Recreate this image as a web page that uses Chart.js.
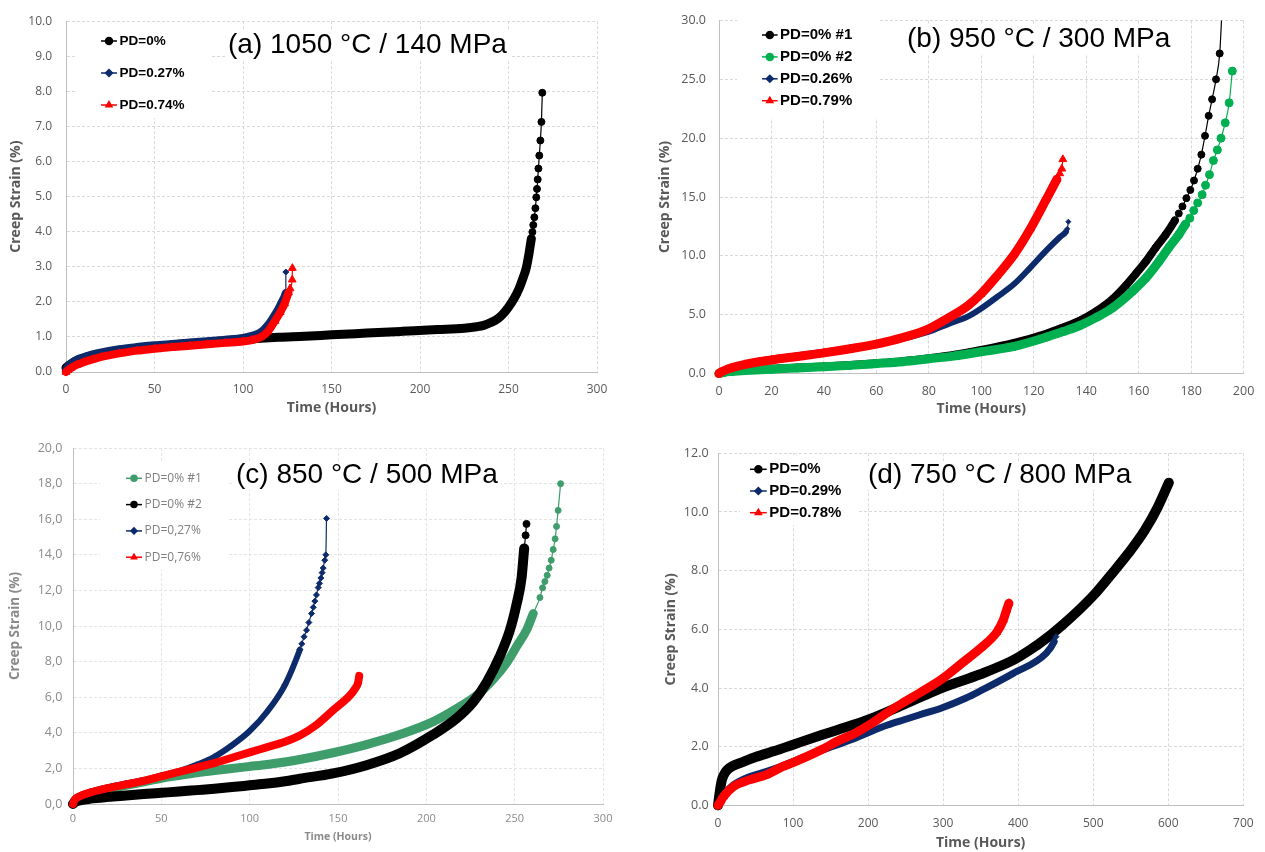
<!DOCTYPE html>
<html>
<head>
<meta charset="utf-8">
<script src="https://cdn.jsdelivr.net/npm/chart.js@4.4.1/dist/chart.umd.min.js"></script>
<style>
  html, body { margin: 0; padding: 0; background: #fff; }
  body { width: 1265px; height: 852px; position: relative; overflow: hidden; }
  canvas { position: absolute; }
</style>
</head>
<body>
<canvas id="chartA" width="630" height="425" style="left:0;top:0"></canvas>
<canvas id="chartB" width="625" height="425" style="left:640px;top:0"></canvas>
<canvas id="chartC" width="630" height="422" style="left:0;top:430px;filter:blur(0.5px)"></canvas>
<canvas id="chartD" width="625" height="422" style="left:640px;top:430px"></canvas>
<script>
// ---- (a) 1050 °C / 140 MPa ----
const aTitle = '(a) 1050 °C / 140 MPa';
const aLabels = ['PD=0%', 'PD=0.27%', 'PD=0.74%'];
const aTicksX = [0, 50, 100, 150, 200, 250, 300];
const aTicksY = [0, 1, 2, 3, 4, 5, 6, 7, 8, 9, 10];
const aTime0 = [0, 2, 5, 10, 20, 30, 40, 50, 60, 75, 90, 100, 110, 120, 135, 150, 170, 190, 210, 225, 232, 236, 240, 244, 247, 250, 253, 256, 258, 260, 261.5, 262.9, 263.5, 264.0, 264.6, 265.2, 265.7, 266.1, 266.5, 266.9, 267.4, 268.0, 268.6, 269.1];
const aStrain0 = [0.12, 0.2, 0.3, 0.4, 0.52, 0.6, 0.67, 0.72, 0.77, 0.83, 0.89, 0.92, 0.96, 0.99, 1.02, 1.06, 1.11, 1.16, 1.21, 1.25, 1.29, 1.33, 1.41, 1.52, 1.66, 1.85, 2.08, 2.38, 2.65, 2.96, 3.35, 3.80, 3.99, 4.19, 4.41, 4.67, 4.98, 5.22, 5.49, 5.80, 6.17, 6.60, 7.13, 7.96];
const aTime1 = [0, 1, 3, 6, 10, 15, 20, 30, 40, 50, 60, 70, 80, 90, 100, 105, 110, 114, 117, 120, 122, 123.5, 124.2, 124.2];
const aStrain1 = [0.05, 0.15, 0.25, 0.35, 0.42, 0.5, 0.56, 0.65, 0.71, 0.76, 0.8, 0.84, 0.88, 0.92, 0.97, 1.03, 1.13, 1.33, 1.55, 1.8, 2.0, 2.15, 2.25, 2.85];
const aTime2 = [0, 1, 3, 6, 10, 15, 20, 30, 40, 50, 60, 70, 80, 90, 100, 105, 110, 114, 118, 121, 123.5, 125.7, 126.6, 127.8, 127.9];
const aStrain2 = [0, 0.05, 0.12, 0.2, 0.28, 0.36, 0.43, 0.53, 0.61, 0.66, 0.71, 0.75, 0.79, 0.83, 0.87, 0.91, 0.99, 1.15, 1.45, 1.7, 1.95, 2.26, 2.38, 2.63, 2.96];

// ---- (b) 950 °C / 300 MPa ----
const bTitle = '(b) 950 °C / 300 MPa';
const bLabels = ['PD=0% #1', 'PD=0% #2', 'PD=0.26%', 'PD=0.79%'];
const bTicksX = [0, 20, 40, 60, 80, 100, 120, 140, 160, 180, 200];
const bTicksY = [0, 5, 10, 15, 20, 25, 30];
const bTime0 = [0, 2, 5, 10, 20, 30, 40, 50, 60, 70, 80, 90, 100, 112.5, 125, 131, 137.6, 143.9, 150.2, 155.2, 159, 162.8, 166.5, 170.3, 173.8, 175.3, 176.7, 178.2, 179.7, 181.1, 182.5, 183.9, 185.3, 186.7, 188.0, 189.5, 190.9, 191.8];
const bStrain0 = [0, 0.1, 0.18, 0.27, 0.4, 0.5, 0.6, 0.72, 0.87, 1.05, 1.3, 1.6, 2.0, 2.6, 3.4, 3.9, 4.5, 5.3, 6.35, 7.5, 8.5, 9.54, 10.7, 11.8, 13.0, 13.6, 14.2, 14.9, 15.6, 16.4, 17.4, 18.6, 20.2, 21.9, 23.3, 25.0, 27.2, 31.0];
const bTime1 = [0, 2, 5, 10, 20, 30, 40, 50, 60, 70, 80, 90, 100, 112.5, 125, 131, 137.6, 143.9, 150.2, 157.7, 162.8, 167.8, 171.5, 175.3, 177.9, 179.5, 181, 182.5, 184.2, 185.5, 187, 188.5, 190, 191.4, 193, 194.5, 195.7];
const bStrain1 = [0, 0.1, 0.17, 0.25, 0.37, 0.47, 0.57, 0.69, 0.84, 1.0, 1.25, 1.5, 1.85, 2.3, 3.1, 3.55, 4.08, 4.77, 5.6, 7.0, 8.13, 9.54, 10.7, 11.8, 12.7, 13.2, 13.85, 14.5, 15.2, 16.0, 16.9, 18.1, 19.0, 20.0, 21.3, 23.0, 25.7];
const bTime2 = [0, 1, 3, 5, 10, 20, 30, 40, 50, 60, 70, 80, 87.3, 95, 99.8, 106, 112.5, 118.7, 125, 130, 132.3, 132.8, 133.2];
const bStrain2 = [0, 0.2, 0.4, 0.55, 0.85, 1.25, 1.55, 1.85, 2.15, 2.5, 2.95, 3.55, 4.2, 4.85, 5.5, 6.5, 7.6, 9.0, 10.5, 11.6, 12.06, 12.3, 12.9];
const bTime3 = [0, 1, 3, 5, 10, 20, 30, 40, 50, 60, 70, 80, 87.3, 94.8, 99.8, 106, 112.5, 118.7, 125, 128.8, 129.9, 130.7, 131.1];
const bStrain3 = [0, 0.15, 0.35, 0.5, 0.78, 1.15, 1.45, 1.75, 2.1, 2.5, 3.05, 3.8, 4.7, 5.75, 6.74, 8.3, 10.1, 12.3, 14.9, 16.5, 17.0, 17.4, 18.2];

// ---- (c) 850 °C / 500 MPa ----
const cTitle = '(c) 850 °C / 500 MPa';
const cLabels = ['PD=0% #1', 'PD=0% #2', 'PD=0,27%', 'PD=0,76%'];
const cTicksX = [0, 50, 100, 150, 200, 250, 300];
const cTicksY = [0, 2, 4, 6, 8, 10, 12, 14, 16, 18, 20];
const cTime0 = [0, 1, 3, 10, 20, 30, 40, 50, 60, 70, 80, 90, 100, 110, 120, 128.4, 147.2, 166.1, 185, 203.9, 217.1, 228.4, 237.8, 245.4, 251.1, 256.7, 260.5, 264.3, 265.8, 267.1, 268.4, 269.5, 270.7, 271.8, 272.9, 273.7, 274.6, 276];
const cStrain0 = [0, 0.2, 0.35, 0.6, 0.85, 1.05, 1.25, 1.45, 1.6, 1.75, 1.88, 2.0, 2.11, 2.22, 2.36, 2.5, 2.88, 3.34, 3.9, 4.63, 5.36, 6.1, 7.0, 7.93, 8.85, 9.77, 10.7, 11.6, 12.15, 12.5, 12.85, 13.26, 13.7, 14.3, 14.9, 15.6, 16.5, 18.0];
const cTime1 = [0, 1, 3, 10, 20, 30, 40, 50, 60, 70, 80, 90, 100, 110, 120, 128.4, 147.2, 166.1, 185, 203.9, 217.1, 226.5, 234.1, 241.6, 247.3, 251.1, 253.9, 255.4, 256.2, 256.7];
const cStrain1 = [0, 0.1, 0.18, 0.3, 0.4, 0.48, 0.56, 0.63, 0.7, 0.78, 0.86, 0.95, 1.05, 1.15, 1.28, 1.42, 1.72, 2.18, 2.85, 3.9, 4.81, 5.73, 6.83, 8.3, 9.77, 11.24, 12.7, 14.36, 15.1, 15.74];
const cTime2 = [0, 1, 3, 10, 20, 30, 40, 50, 60, 70, 80, 90, 100, 110, 120, 128.4, 129.5, 130.8, 132.2, 133.5, 135, 136, 136.9, 137.8, 138.8, 139.5, 140.3, 141, 141.6, 142.5, 143.1, 143.5];
const cStrain2 = [0, 0.2, 0.4, 0.7, 0.95, 1.15, 1.35, 1.6, 1.85, 2.2, 2.65, 3.3, 4.1, 5.2, 6.7, 8.67, 9.0, 9.4, 9.77, 10.2, 10.7, 11.05, 11.4, 11.75, 12.16, 12.4, 12.7, 13.0, 13.26, 13.7, 14.0, 16.05];
const cTime3 = [0, 1, 3, 10, 20, 30, 40, 50, 60, 70, 80, 90, 100, 110, 120, 128.4, 137.8, 147.2, 156.7, 159.5, 161.4, 162];
const cStrain3 = [0, 0.25, 0.4, 0.65, 0.9, 1.1, 1.3, 1.55, 1.8, 2.05, 2.3, 2.6, 2.9, 3.2, 3.5, 3.85, 4.45, 5.27, 6.1, 6.46, 6.83, 7.2];

// ---- (d) 750 °C / 800 MPa ----
const dTitle = '(d) 750 °C / 800 MPa';
const dLabels = ['PD=0%', 'PD=0.29%', 'PD=0.78%'];
const dTicksX = [0, 100, 200, 300, 400, 500, 600, 700];
const dTicksY = [0, 2, 4, 6, 8, 10, 12];
const dTime0 = [0, 2, 5, 8, 12, 20, 30, 50, 75, 100, 138, 160, 200, 248, 298, 349.5, 393.4, 415.3, 437.2, 459, 481, 503, 525, 546.8, 568.8, 586.3, 600.8];
const dStrain0 = [0, 0.4, 0.85, 1.05, 1.2, 1.35, 1.45, 1.65, 1.85, 2.07, 2.4, 2.58, 2.92, 3.44, 4.0, 4.47, 4.95, 5.29, 5.69, 6.15, 6.66, 7.23, 7.9, 8.59, 9.38, 10.18, 11.0];
const dTime1 = [0, 3, 7.4, 20.5, 42, 64, 86, 100, 138, 182, 204, 226, 248, 269, 298, 330.6, 349.5, 393.4, 437.2, 447.9, 450.4];
const dStrain1 = [0, 0.15, 0.35, 0.7, 0.98, 1.15, 1.35, 1.5, 1.88, 2.28, 2.52, 2.74, 2.92, 3.09, 3.32, 3.66, 3.9, 4.5, 5.18, 5.58, 5.75];
const dTime2 = [0, 3, 7.4, 20.5, 42, 64, 86, 100, 138, 160, 182, 204, 226, 248, 269, 298, 327.6, 349.5, 371.4, 380.2, 384.5, 387.6];
const dStrain2 = [0, 0.12, 0.3, 0.64, 0.87, 1.04, 1.32, 1.46, 1.9, 2.2, 2.45, 2.78, 3.17, 3.52, 3.84, 4.3, 4.9, 5.35, 5.9, 6.32, 6.66, 6.89];

const BLACK = '#000000', NAVY = '#0d2b6b', RED = '#ff0000', GREEN = '#00b050', GREEN_C = '#3f9d6c';

// title + in-plot legend, drawn over the grid but under the curves
const decorPlugin = {
  id: 'decor',
  beforeDatasetsDraw(chart, args, o) {
    const ctx = chart.ctx;
    const ox = o.offset[0], oy = o.offset[1];
    ctx.save();
    ctx.setLineDash([]);
    ctx.fillStyle = '#ffffff';
    ctx.fillRect(o.box[0] - ox, o.box[1] - oy, o.box[2], o.box[3]);
    ctx.font = '28px "Liberation Sans", Arial, sans-serif';
    const tw = ctx.measureText(o.title).width;
    ctx.fillRect(o.titleAt[0] - ox - 3, o.titleAt[1] - oy - 22, tw + 6, 29);
    ctx.fillStyle = '#000000';
    ctx.textAlign = 'left';
    ctx.textBaseline = 'alphabetic';
    ctx.fillText(o.title, o.titleAt[0] - ox, o.titleAt[1] - oy);

    chart.data.datasets.forEach((ds, i) => {
      const x = o.legendX - ox;
      const y = o.legendY + i * o.legendStep - oy;
      ctx.strokeStyle = ds.borderColor;
      ctx.fillStyle = ds.borderColor;
      ctx.lineWidth = 1.5;
      ctx.beginPath();
      ctx.moveTo(x, y);
      ctx.lineTo(x + o.legendLen, y);
      ctx.stroke();
      Chart.helpers.drawPoint(ctx, { pointStyle: ds.pointStyle, radius: o.legendR, borderWidth: 1, rotation: 0 }, x + o.legendLen / 2, y);
      ctx.fillStyle = o.legendColor;
      ctx.font = o.legendFont;
      ctx.textBaseline = 'middle';
      ctx.fillText(ds.label, x + o.legendLen + o.legendGap, y);
    });
    ctx.restore();
  }
};

function makePanel(id, p) {
  const [bx, by, bw, bh] = p.box;
  const [al, at, ar, ab] = p.area;
  const gridColor = p.gridColor || '#d9d9d9';
  const tickColor = p.tickColor || '#595959';
  const axisTitle = (text, size, pad) => ({
    display: true, text: text, color: tickColor, padding: pad,
    font: { family: 'Open Sans', size: size, weight: 'bold' }
  });
  return new Chart(document.getElementById(id), {
    type: 'scatter',
    data: {
      datasets: p.series.map(s => ({
        label: s.label,
        data: s.t.map((t, i) => ({ x: t, y: s.s[i] })),
        showLine: true,
        cubicInterpolationMode: 'monotone',
        borderColor: s.color,
        backgroundColor: s.color,
        borderWidth: s.band,
        borderJoinStyle: 'round',
        borderCapStyle: 'round',
        pointStyle: s.shape,
        pointRadius: s.r,
        pointHoverRadius: s.r,
        pointBorderWidth: 1,
        order: s.order,
        clip: { left: 6, top: 0, right: 6, bottom: 6 },
        segment: { borderWidth: c => (c.p0DataIndex >= s.tail ? 1.2 : s.band) }
      }))
    },
    options: {
      responsive: false,
      animation: false,
      events: [],
      layout: { padding: { left: 0, top: at - by, right: bx + bw - ar, bottom: 0 } },
      scales: {
        x: {
          type: 'linear', min: p.ticksX[0], max: p.ticksX[p.ticksX.length - 1],
          afterBuildTicks: sc => { sc.ticks = p.ticksX.map(v => ({ value: v })); },
          afterFit: sc => { sc.height = by + bh - ab; },
          grid: { color: gridColor, lineWidth: 1, drawTicks: false },
          border: { color: '#bfbfbf', width: 1, dash: [3, 2] },
          ticks: { color: tickColor, padding: p.xTickPad, font: { family: 'Open Sans', size: p.xTickSize }, callback: v => String(v) },
          title: axisTitle('Time (Hours)', p.xTitleSize, { top: 0, bottom: p.xTitlePad })
        },
        y: {
          type: 'linear', min: p.ticksY[0], max: p.ticksY[p.ticksY.length - 1],
          afterBuildTicks: sc => { sc.ticks = p.ticksY.map(v => ({ value: v })); },
          afterFit: sc => { sc.width = al - bx; },
          grid: { color: gridColor, lineWidth: 1, drawTicks: false },
          border: { color: '#bfbfbf', width: 1, dash: [3, 2] },
          ticks: { color: tickColor, padding: p.yTickPad, font: { family: 'Open Sans', size: p.yTickSize }, callback: v => (p.comma ? v.toFixed(1).replace('.', ',') : v.toFixed(1)) },
          title: axisTitle('Creep Strain (%)', p.yTitleSize, { top: p.yTitlePad, bottom: 0 })
        }
      },
      plugins: {
        legend: { display: false },
        tooltip: { enabled: false },
        decor: Object.assign({ offset: [bx, by] }, p.decor)
      }
    },
    plugins: [decorPlugin]
  });
}

makePanel('chartA', {
  box: [0, 0, 630, 425], area: [66, 16, 597, 372],
  ticksX: aTicksX, ticksY: aTicksY,
  xTickSize: 12, yTickSize: 12, xTickPad: 10.8, yTickPad: 14,
  xTitleSize: 14, yTitleSize: 14, xTitlePad: 8.6, yTitlePad: 7.6,
  series: [
    { label: aLabels[0], t: aTime0, s: aStrain0, color: BLACK, shape: 'circle', r: 3.5, band: 9, tail: 31, order: 3 },
    { label: aLabels[1], t: aTime1, s: aStrain1, color: NAVY, shape: 'rectRot', r: 3, band: 8, tail: 22, order: 2 },
    { label: aLabels[2], t: aTime2, s: aStrain2, color: RED, shape: 'triangle', r: 4.5, band: 8, tail: 21, order: 1 }
  ],
  decor: {
    title: aTitle, titleAt: [228, 53], box: [75, 22, 135, 96],
    legendX: 101, legendY: 41, legendStep: 32, legendLen: 16, legendGap: 2.5, legendR: 3.5,
    legendFont: 'bold 13.5px "Liberation Sans", Arial, sans-serif', legendColor: '#000000'
  }
});

makePanel('chartB', {
  box: [640, 0, 625, 425], area: [719, 16, 1248.5, 373.5],
  ticksX: bTicksX, ticksY: bTicksY,
  xTickSize: 12.5, yTickSize: 12.5, xTickPad: 10.7, yTickPad: 13,
  xTitleSize: 14, yTitleSize: 14, xTitlePad: 7.3, yTitlePad: 16.6,
  series: [
    { label: bLabels[0], t: bTime0, s: bStrain0, color: BLACK, shape: 'circle', r: 3.5, band: 8, tail: 24, order: 4 },
    { label: bLabels[1], t: bTime1, s: bStrain1, color: GREEN, shape: 'circle', r: 4, band: 9, tail: 24, order: 3 },
    { label: bLabels[2], t: bTime2, s: bStrain2, color: NAVY, shape: 'rectRot', r: 2.5, band: 6, tail: 20, order: 2 },
    { label: bLabels[3], t: bTime3, s: bStrain3, color: RED, shape: 'triangle', r: 4.5, band: 9, tail: 19, order: 1 }
  ],
  decor: {
    title: bTitle, titleAt: [907, 47], box: [737, 20, 141, 98],
    legendX: 762, legendY: 35, legendStep: 21.9, legendLen: 15.6, legendGap: 2.5, legendR: 3.5,
    legendFont: 'bold 15px "Liberation Sans", Arial, sans-serif', legendColor: '#000000'
  }
});

makePanel('chartC', {
  box: [0, 430, 630, 422], area: [73, 441, 603, 804],
  ticksX: cTicksX, ticksY: cTicksY, comma: true,
  gridColor: '#e4e4e4', tickColor: '#8a8a8a',
  xTickSize: 11, yTickSize: 12.5, xTickPad: 8.4, yTickPad: 10.6,
  xTitleSize: 10.5, yTitleSize: 13.5, xTitlePad: 9, yTitlePad: 6.9,
  series: [
    { label: cLabels[0], t: cTime0, s: cStrain0, color: GREEN_C, shape: 'circle', r: 3, band: 9, tail: 26, order: 4 },
    { label: cLabels[1], t: cTime1, s: cStrain1, color: BLACK, shape: 'circle', r: 3.5, band: 10, tail: 27, order: 3 },
    { label: cLabels[2], t: cTime2, s: cStrain2, color: NAVY, shape: 'rectRot', r: 3, band: 6, tail: 15, order: 2 },
    { label: cLabels[3], t: cTime3, s: cStrain3, color: RED, shape: 'triangle', r: 3.5, band: 8, tail: 99, order: 1 }
  ],
  decor: {
    title: cTitle, titleAt: [236, 483], box: [100, 462, 127, 108],
    legendX: 126, legendY: 478.3, legendStep: 26.3, legendLen: 16, legendGap: 2.5, legendR: 3,
    legendFont: '12px "Open Sans", sans-serif', legendColor: '#7f7f7f'
  }
});

makePanel('chartD', {
  box: [640, 430, 625, 422], area: [718, 453.3, 1249.5, 805.4],
  ticksX: dTicksX, ticksY: dTicksY,
  xTickSize: 12, yTickSize: 12.5, xTickPad: 11.4, yTickPad: 9.4,
  xTitleSize: 14, yTitleSize: 14, xTitlePad: 0.3, yTitlePad: 22.6,
  series: [
    { label: dLabels[0], t: dTime0, s: dStrain0, color: BLACK, shape: 'circle', r: 4, band: 10, tail: 99, order: 3 },
    { label: dLabels[1], t: dTime1, s: dStrain1, color: NAVY, shape: 'rectRot', r: 3, band: 7, tail: 19, order: 2 },
    { label: dLabels[2], t: dTime2, s: dStrain2, color: RED, shape: 'triangle', r: 4.5, band: 9, tail: 99, order: 1 }
  ],
  decor: {
    title: dTitle, titleAt: [868, 483], box: [740, 455, 117, 70],
    legendX: 750, legendY: 469.3, legendStep: 21.7, legendLen: 16.7, legendGap: 2.6, legendR: 3.5,
    legendFont: 'bold 15px "Liberation Sans", Arial, sans-serif', legendColor: '#000000'
  }
});
</script>
</body>
</html>
